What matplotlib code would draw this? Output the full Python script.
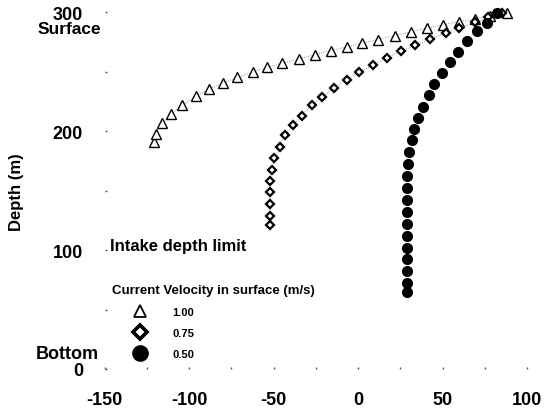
import matplotlib
matplotlib.use("Agg")
import matplotlib.pyplot as plt
from matplotlib.lines import Line2D

plt.rcParams['font.family'] = ['Liberation Sans', 'DejaVu Sans']
plt.rcParams['font.weight'] = 'bold'
plt.rcParams['axes.unicode_minus'] = False

# Series: velocity 1.00 m/s (triangles)
v100_x = [-120.5, -119.7, -115.8, -110.5, -103.9, -95.9, -88.3, -79.7, -71.4, -62.3,
          -53.6, -45.1, -34.8, -25.4, -16.1, -6.7, 2.6, 12.0, 21.7, 31.3, 40.7,
          50.1, 59.7, 69.3, 78.1, 88.0]
v100_y = [191.3, 197.5, 206.8, 214.3, 222.2, 229.3, 235.4, 240.5, 245.3, 249.8,
          253.7, 257.0, 260.8, 264.4, 267.8, 270.9, 274.0, 277.1, 280.4, 283.5, 286.6,
          289.5, 292.2, 294.5, 297.3, 299.6]

# Series: velocity 0.75 m/s (diamonds)
v075_x = [-52.1, -52.1, -52.1, -52.1, -52.1, -51.1, -49.5, -46.2, -43.2, -38.3,
          -33.3, -27.4, -21.1, -14.0, -6.7, 0.8, 8.6, 16.9, 25.4, 33.7, 42.6,
          52.1, 59.9, 69.3, 77.2, 85.5]
v075_y = [120.9, 128.5, 138.4, 148.5, 158.1, 167.3, 177.2, 187.1, 196.9, 205.3,
          212.9, 221.7, 229.0, 236.3, 243.3, 249.8, 255.4, 261.6, 267.3, 272.3, 277.6,
          282.7, 286.9, 291.5, 295.9, 299.3]

# Series: velocity 0.50 m/s (filled circles)
v050_x = [29.1, 29.1, 29.1, 29.1, 29.1, 29.1, 29.1, 29.1, 29.1, 29.1, 29.2,
          29.4, 30.4, 31.7, 33.3, 35.7, 38.6, 42.2, 45.2, 49.5, 54.4, 59.3,
          64.7, 70.2, 76.1, 82.1]
v050_y = [64.7, 72.6, 82.1, 92.2, 102.1, 112.0, 121.8, 132.2, 142.0, 152.5, 162.6,
          172.2, 182.3, 192.2, 201.9, 211.0, 220.3, 230.6, 239.7, 248.9, 258.0, 267.0,
          275.5, 284.1, 291.1, 299.0]

legend_labels = ["1.00", "0.75", "0.50"]
x_ticks = [-150, -100, -50, 0, 50, 100]
y_ticks = [0, 100, 200, 300]

fig = plt.figure(figsize=(5.49, 4.10), dpi=100)
ax = fig.add_axes([104.5 / 549, 40 / 410, 422.5 / 549, 356.7 / 410])

ax.plot(v100_x, v100_y, ls=':', lw=0.6, color='#777777', zorder=1)
ax.plot(v075_x, v075_y, ls=':', lw=0.6, color='#777777', zorder=1)
ax.plot(v100_x, v100_y, ls='none', marker='^', ms=7, mfc='white', mec='black', mew=1.0,
        clip_on=False, zorder=3)
ax.plot(v075_x, v075_y, ls='none', marker='D', ms=4.2, mfc='white', mec='black', mew=1.6,
        clip_on=False, zorder=3)
ax.plot(v050_x, v050_y, ls='none', marker='o', ms=7, mfc='black', mec='black',
        clip_on=False, zorder=3)

ax.set_xlim(-150, 100)
ax.set_ylim(0, 300)
ax.set_xticks(x_ticks)
ax.set_yticks(y_ticks)
ax.set_xticks(range(-150, 101, 25), minor=True)
ax.set_yticks(range(0, 301, 50), minor=True)
for s in ax.spines.values():
    s.set_visible(False)
ax.tick_params(axis='both', which='both', length=1.2, width=1.0, color='#555555',
               labelsize=13, direction='in')
ax.tick_params(axis='x', which='major', pad=15.5)
ax.tick_params(axis='y', which='major', pad=15.5)
for lab in ax.get_xticklabels() + ax.get_yticklabels():
    lab.set_fontweight('bold')
# lift the top tick label slightly, as in the reference
ax.get_yticklabels()[-1].set_y(301)

ax.set_ylabel('Depth (m)', fontsize=12, fontweight='bold', labelpad=21)

fig.text(69 / 549, 1 - 34 / 410, 'Surface', ha='center', va='baseline',
         fontsize=12.5, fontweight='bold')
fig.text(67.5 / 549, 1 - 359 / 410, 'Bottom', ha='center', va='baseline',
         fontsize=13, fontweight='bold')

fig.text(110 / 549, 1 - 251 / 410, 'Intake depth limit', ha='left', va='baseline',
         fontsize=12, fontweight='bold')

handles = [
    Line2D([], [], ls='none', marker='^', ms=9, mfc='white', mec='black', mew=1.3),
    Line2D([], [], ls='none', marker='D', ms=7, mfc='white', mec='black', mew=2.6),
    Line2D([], [], ls='none', marker='o', ms=11, mfc='black', mec='black'),
]
leg = ax.legend(handles, legend_labels, title='Current Velocity in surface (m/s)',
                loc='upper left', bbox_to_anchor=(112 / 549, 1 - 285.5 / 410),
                bbox_transform=fig.transFigure, frameon=False,
                prop={'size': 8, 'weight': 'bold'},
                title_fontproperties={'size': 9.5, 'weight': 'bold'},
                handletextpad=0.45, labelspacing=0.97, borderpad=0, borderaxespad=0,
                handlelength=5.0)
leg._legend_box.align = 'left'

fig.savefig('out.png', dpi=100)
